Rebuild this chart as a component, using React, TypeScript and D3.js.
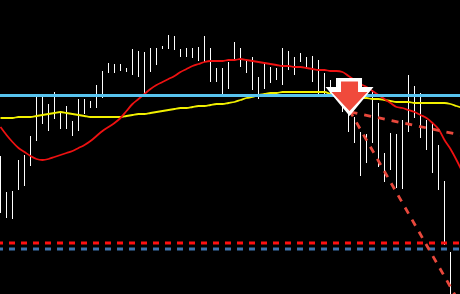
import React from "react";
import * as d3 from "d3";

const W = 460;
const H = 294;

// Bar highs / lows (price)
const highs = [
  1.1138, 1.1102, 1.1103, 1.1134, 1.1139, 1.1158, 1.1197, 1.1197, 1.119, 1.1202,
  1.1182, 1.1188, 1.1173, 1.1195, 1.1195, 1.1193, 1.1209, 1.1223, 1.1231, 1.123,
  1.123, 1.1226, 1.1245, 1.1243, 1.1242, 1.1246, 1.1246, 1.1248, 1.1259, 1.1258,
  1.1245, 1.1246, 1.1246, 1.1247, 1.1258, 1.1246, 1.1226, 1.1226, 1.1232, 1.1252,
  1.1246, 1.1234, 1.1237, 1.1217, 1.1231, 1.1227, 1.1226, 1.1246, 1.1243, 1.1237,
  1.1241, 1.1237, 1.1238, 1.1234, 1.1221, 1.1214, 1.1216, 1.1209, 1.1181, 1.1177,
  1.1162, 1.116, 1.1204, 1.1191, 1.1141, 1.1161, 1.116, 1.1174, 1.1219, 1.1208,
  1.1201, 1.1174, 1.1172, 1.1149, 1.1113, 1.1042,
];
const lows = [
  1.1081, 1.1076, 1.1075, 1.1104, 1.1108, 1.1128, 1.1153, 1.117, 1.1163, 1.1175,
  1.1165, 1.1165, 1.1158, 1.1163, 1.118, 1.1186, 1.1186, 1.1196, 1.1221, 1.1221,
  1.1223, 1.1222, 1.1219, 1.1217, 1.12, 1.1222, 1.1229, 1.1245, 1.1245, 1.1244,
  1.1237, 1.1237, 1.1236, 1.1233, 1.1232, 1.1212, 1.1212, 1.1199, 1.1205, 1.1234,
  1.1227, 1.1221, 1.1204, 1.1195, 1.1205, 1.1211, 1.1214, 1.1209, 1.1224, 1.1219,
  1.1232, 1.1226, 1.1212, 1.1199, 1.1199, 1.1199, 1.1194, 1.1182, 1.1162, 1.1151,
  1.1118, 1.1131, 1.1151, 1.1127, 1.1112, 1.1124, 1.1106, 1.1105, 1.1162, 1.1176,
  1.1156, 1.1144, 1.1121, 1.1104, 1.1049, 1.0998,
];

// Moving averages
const redMA = [
  1.1167, 1.1159, 1.1152, 1.1146, 1.1142, 1.1138, 1.1135, 1.1134, 1.1135, 1.1137,
  1.1139, 1.1141, 1.1143, 1.1146, 1.1149, 1.1153, 1.1158, 1.1163, 1.1167, 1.1171,
  1.1176, 1.1183, 1.119, 1.1195, 1.12, 1.1205, 1.1209, 1.1212, 1.1215, 1.1218,
  1.1222, 1.1225, 1.1228, 1.123, 1.1232, 1.1233, 1.1233, 1.1233, 1.1234, 1.1234,
  1.1235, 1.1234, 1.1233, 1.1232, 1.1231, 1.123, 1.1229, 1.1228, 1.1228, 1.1227,
  1.1227, 1.1226, 1.1225, 1.1224, 1.1224, 1.1223, 1.1223, 1.1222, 1.1218, 1.1214,
  1.121, 1.1207, 1.1203, 1.1199, 1.1195, 1.1191, 1.1187, 1.1186, 1.1184, 1.1182,
  1.1179, 1.1176, 1.1171, 1.1165, 1.1154, 1.1145, 1.1134, 1.1122,
];
const yellowMA = [
  1.1176, 1.1176, 1.1176, 1.1177, 1.1177, 1.1177, 1.1178, 1.1179, 1.118, 1.1181,
  1.1182, 1.1181, 1.118, 1.1179, 1.1178, 1.1177, 1.1177, 1.1177, 1.1177, 1.1177,
  1.1177, 1.1178, 1.1179, 1.118, 1.118, 1.1181, 1.1182, 1.1183, 1.1184, 1.1185,
  1.1186, 1.1186, 1.1187, 1.1188, 1.1188, 1.1189, 1.119, 1.119, 1.1191, 1.1192,
  1.1194, 1.1196, 1.1197, 1.1199, 1.12, 1.1201, 1.1201, 1.1202, 1.1202, 1.1202,
  1.1202, 1.1202, 1.1202, 1.1202, 1.1202, 1.12, 1.1199, 1.1198, 1.1197, 1.1197,
  1.1196, 1.1196, 1.1195, 1.1195, 1.1194, 1.1193, 1.1192, 1.1192, 1.1192, 1.1191,
  1.1191, 1.1191, 1.1191, 1.1191, 1.1191, 1.119, 1.1188, 1.1186,
];

// Horizontal levels
const levelCyan = 1.11985;
const levelRed = 1.1051;
const levelBlue = 1.1045;

// Sell signal (bar index, price) and trend lines [index, price]
const signalIndex = 58.17;
const signalPrice = 1.1182;
const trendShallow: [number, number][] = [[58.33, 1.1182], [76.67, 1.1159]];
const trendSteep: [number, number][] = [[58.33, 1.1182], [76.67, 1.09895]];

export default function App() {
  const x = d3.scaleLinear().domain([0, 75]).range([0.5, 450.5]);
  const y = d3.scaleLinear().domain([1.1, 1.1294]).range([294, 0]);

  const maLine = d3
    .line<number>()
    .x((_, i) => x(i))
    .y((d) => y(d))
    .curve(d3.curveMonotoneX);
  const segLine = d3
    .line<[number, number]>()
    .x((d) => x(d[0]))
    .y((d) => y(d[1]));

  const ax = x(signalIndex);
  const tipY = y(signalPrice);
  const outer = [
    [ax - 12.5, tipY - 34],
    [ax + 12.5, tipY - 34],
    [ax + 12.5, tipY - 25],
    [ax + 24, tipY - 25],
    [ax, tipY + 4],
    [ax - 24, tipY - 25],
    [ax - 12.5, tipY - 25],
  ];
  const inner = [
    [ax - 8.5, tipY - 30.5],
    [ax + 8.5, tipY - 30.5],
    [ax + 8.5, tipY - 20],
    [ax + 18, tipY - 20],
    [ax, tipY - 1],
    [ax - 18, tipY - 20],
    [ax - 8.5, tipY - 20],
  ];
  const poly = (pts: number[][]) => "M" + pts.map((p) => p.join(",")).join("L") + "Z";

  return (
    <svg
      width={W}
      height={H}
      style={{ position: "fixed", left: 0, top: 0, background: "#000" }}
    >
      <rect x={0} y={0} width={W} height={H} fill="#000" />
      <g shapeRendering="crispEdges">
        {highs.map((h, i) => (
          <line
            key={i}
            x1={x(i)}
            x2={x(i)}
            y1={y(h)}
            y2={y(lows[i])}
            stroke="#ffffff"
            strokeWidth={1}
          />
        ))}
      </g>
      <line
        x1={0}
        x2={W}
        y1={y(levelRed)}
        y2={y(levelRed)}
        stroke="#ff1010"
        strokeWidth={3}
        strokeDasharray="6,6"
        strokeDashoffset={3}
      />
      <line
        x1={0}
        x2={W}
        y1={y(levelBlue)}
        y2={y(levelBlue)}
        stroke="#3f74ad"
        strokeWidth={3}
        strokeDasharray="6,6"
        strokeDashoffset={3}
      />
      <path d={maLine(yellowMA) || ""} fill="none" stroke="#f2f000" strokeWidth={1.8} />
      <path d={maLine(redMA) || ""} fill="none" stroke="#ee1111" strokeWidth={1.8} />
      <line
        x1={0}
        x2={W}
        y1={y(levelCyan)}
        y2={y(levelCyan)}
        stroke="#58c3ee"
        strokeWidth={3}
      />
      <path
        d={segLine(trendShallow) || ""}
        fill="none"
        stroke="#e8483c"
        strokeWidth={2.8}
        strokeDasharray="7,7"
      />
      <path
        d={segLine(trendSteep) || ""}
        fill="none"
        stroke="#e8483c"
        strokeWidth={2.8}
        strokeDasharray="7,7"
        strokeDashoffset={2}
      />
      <path d={poly(outer)} fill="#ffffff" />
      <path d={poly(inner)} fill="#f04a3c" />
    </svg>
  );
}
